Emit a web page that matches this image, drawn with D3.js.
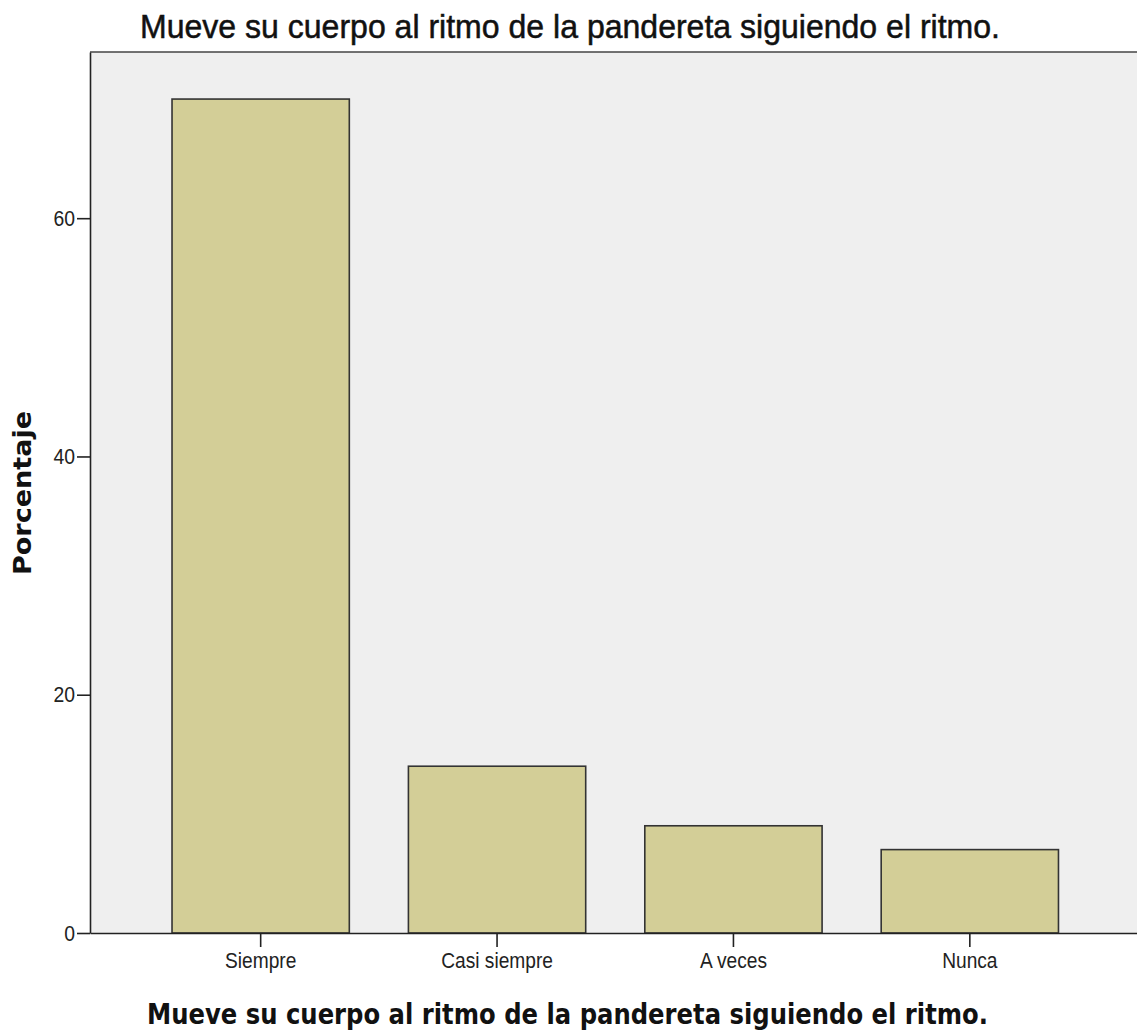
<!DOCTYPE html>
<html>
<head>
<meta charset="utf-8">
<script src="https://cdn.jsdelivr.net/npm/d3@7"></script>
<style>
  body { margin: 0; background: #fff; }
  svg { display: block; }
</style>
</head>
<body>
<svg id="chart" width="1137" height="1032"></svg>
<script>
// data
const categories = ["Siempre", "Casi siempre", "A veces", "Nunca"];
const percentages = [70, 14, 9, 7];
const yTicks = [0, 20, 40, 60];
const titleText = "Mueve su cuerpo al ritmo de la pandereta siguiendo el ritmo.";
const xLabelText = "Mueve su cuerpo al ritmo de la pandereta siguiendo el ritmo.";
const yLabelText = "Porcentaje";

const margin = {top: 52, left: 90, bottom: 933, right: 1140.5};
const svg = d3.select("#chart");

let x = d3.scaleBand()
    .domain(categories)
    .range([margin.left, margin.right])
    .paddingInner(0.25)
    .paddingOuter(0.347);

let y = d3.scaleLinear()
    .domain([0, 73.95])
    .range([margin.bottom, margin.top]);

// squeeze text horizontally, like the narrow font of the original
function squeeze(sel, factor) {
    sel.each(function() {
        let w = this.getComputedTextLength();
        d3.select(this)
            .attr("textLength", w * factor)
            .attr("lengthAdjust", "spacingAndGlyphs");
    });
}

// plot background
svg.append("rect")
    .attr("x", margin.left)
    .attr("y", margin.top)
    .attr("width", 1137 - margin.left + 5)
    .attr("height", margin.bottom - margin.top)
    .attr("fill", "#efefef");

// top frame line
svg.append("line")
    .attr("x1", margin.left).attr("x2", 1137)
    .attr("y1", margin.top).attr("y2", margin.top)
    .attr("stroke", "#444").attr("stroke-width", 1.5);

// bars
svg.selectAll("rect.bar")
    .data(categories)
    .enter().append("rect")
    .attr("class", "bar")
    .attr("x", d => x(d))
    .attr("y", (d, i) => y(percentages[i]))
    .attr("width", x.bandwidth())
    .attr("height", (d, i) => y(0) - y(percentages[i]))
    .attr("fill", "#d3ce97")
    .attr("stroke", "#333")
    .attr("stroke-width", 1.6);

// y axis
let yAxis = svg.append("g")
    .attr("transform", "translate(" + margin.left + ",0)")
    .call(d3.axisLeft(y).tickValues(yTicks).tickSize(13).tickPadding(2).tickSizeOuter(0));
yAxis.select(".domain").attr("stroke", "#222").attr("stroke-width", 1.6);
yAxis.selectAll(".tick line").attr("stroke", "#222").attr("stroke-width", 1.6);
yAxis.selectAll(".tick text")
    .attr("font-family", "'Liberation Sans', Arial, sans-serif")
    .attr("font-size", 22)
    .attr("fill", "#222")
    .call(squeeze, 0.88);

// x axis
let xAxis = svg.append("g")
    .attr("transform", "translate(0," + margin.bottom + ")")
    .call(d3.axisBottom(x).tickSize(14).tickPadding(5).tickSizeOuter(0));
xAxis.select(".domain").attr("stroke", "#222").attr("stroke-width", 1.6);
xAxis.selectAll(".tick line").attr("stroke", "#222").attr("stroke-width", 1.6);
xAxis.selectAll(".tick text")
    .attr("font-family", "'Liberation Sans', Arial, sans-serif")
    .attr("font-size", 22)
    .attr("fill", "#222")
    .call(squeeze, 0.87);

// title
svg.append("text")
    .attr("x", 570)
    .attr("y", 38)
    .attr("text-anchor", "middle")
    .attr("font-family", "'Liberation Sans', Arial, sans-serif")
    .attr("font-size", 33)
    .attr("textLength", 860)
    .attr("lengthAdjust", "spacingAndGlyphs")
    .attr("fill", "#111")
    .attr("stroke", "#111")
    .attr("stroke-width", 0.5)
    .text(titleText);

// x label
svg.append("text")
    .attr("x", 567.5)
    .attr("y", 1024)
    .attr("text-anchor", "middle")
    .attr("font-family", "'DejaVu Sans Condensed', 'DejaVu Sans', sans-serif")
    .attr("font-weight", "bold")
    .attr("font-size", 29)
    .attr("textLength", 841)
    .attr("lengthAdjust", "spacingAndGlyphs")
    .attr("fill", "#111")
    .text(xLabelText);

// y label
svg.append("text")
    .attr("transform", "translate(31,493) rotate(-90)")
    .attr("text-anchor", "middle")
    .attr("font-family", "'DejaVu Sans', sans-serif")
    .attr("font-weight", "bold")
    .attr("font-size", 24)
    .attr("textLength", 164)
    .attr("lengthAdjust", "spacingAndGlyphs")
    .attr("fill", "#111")
    .text(yLabelText);
</script>
</body>
</html>
